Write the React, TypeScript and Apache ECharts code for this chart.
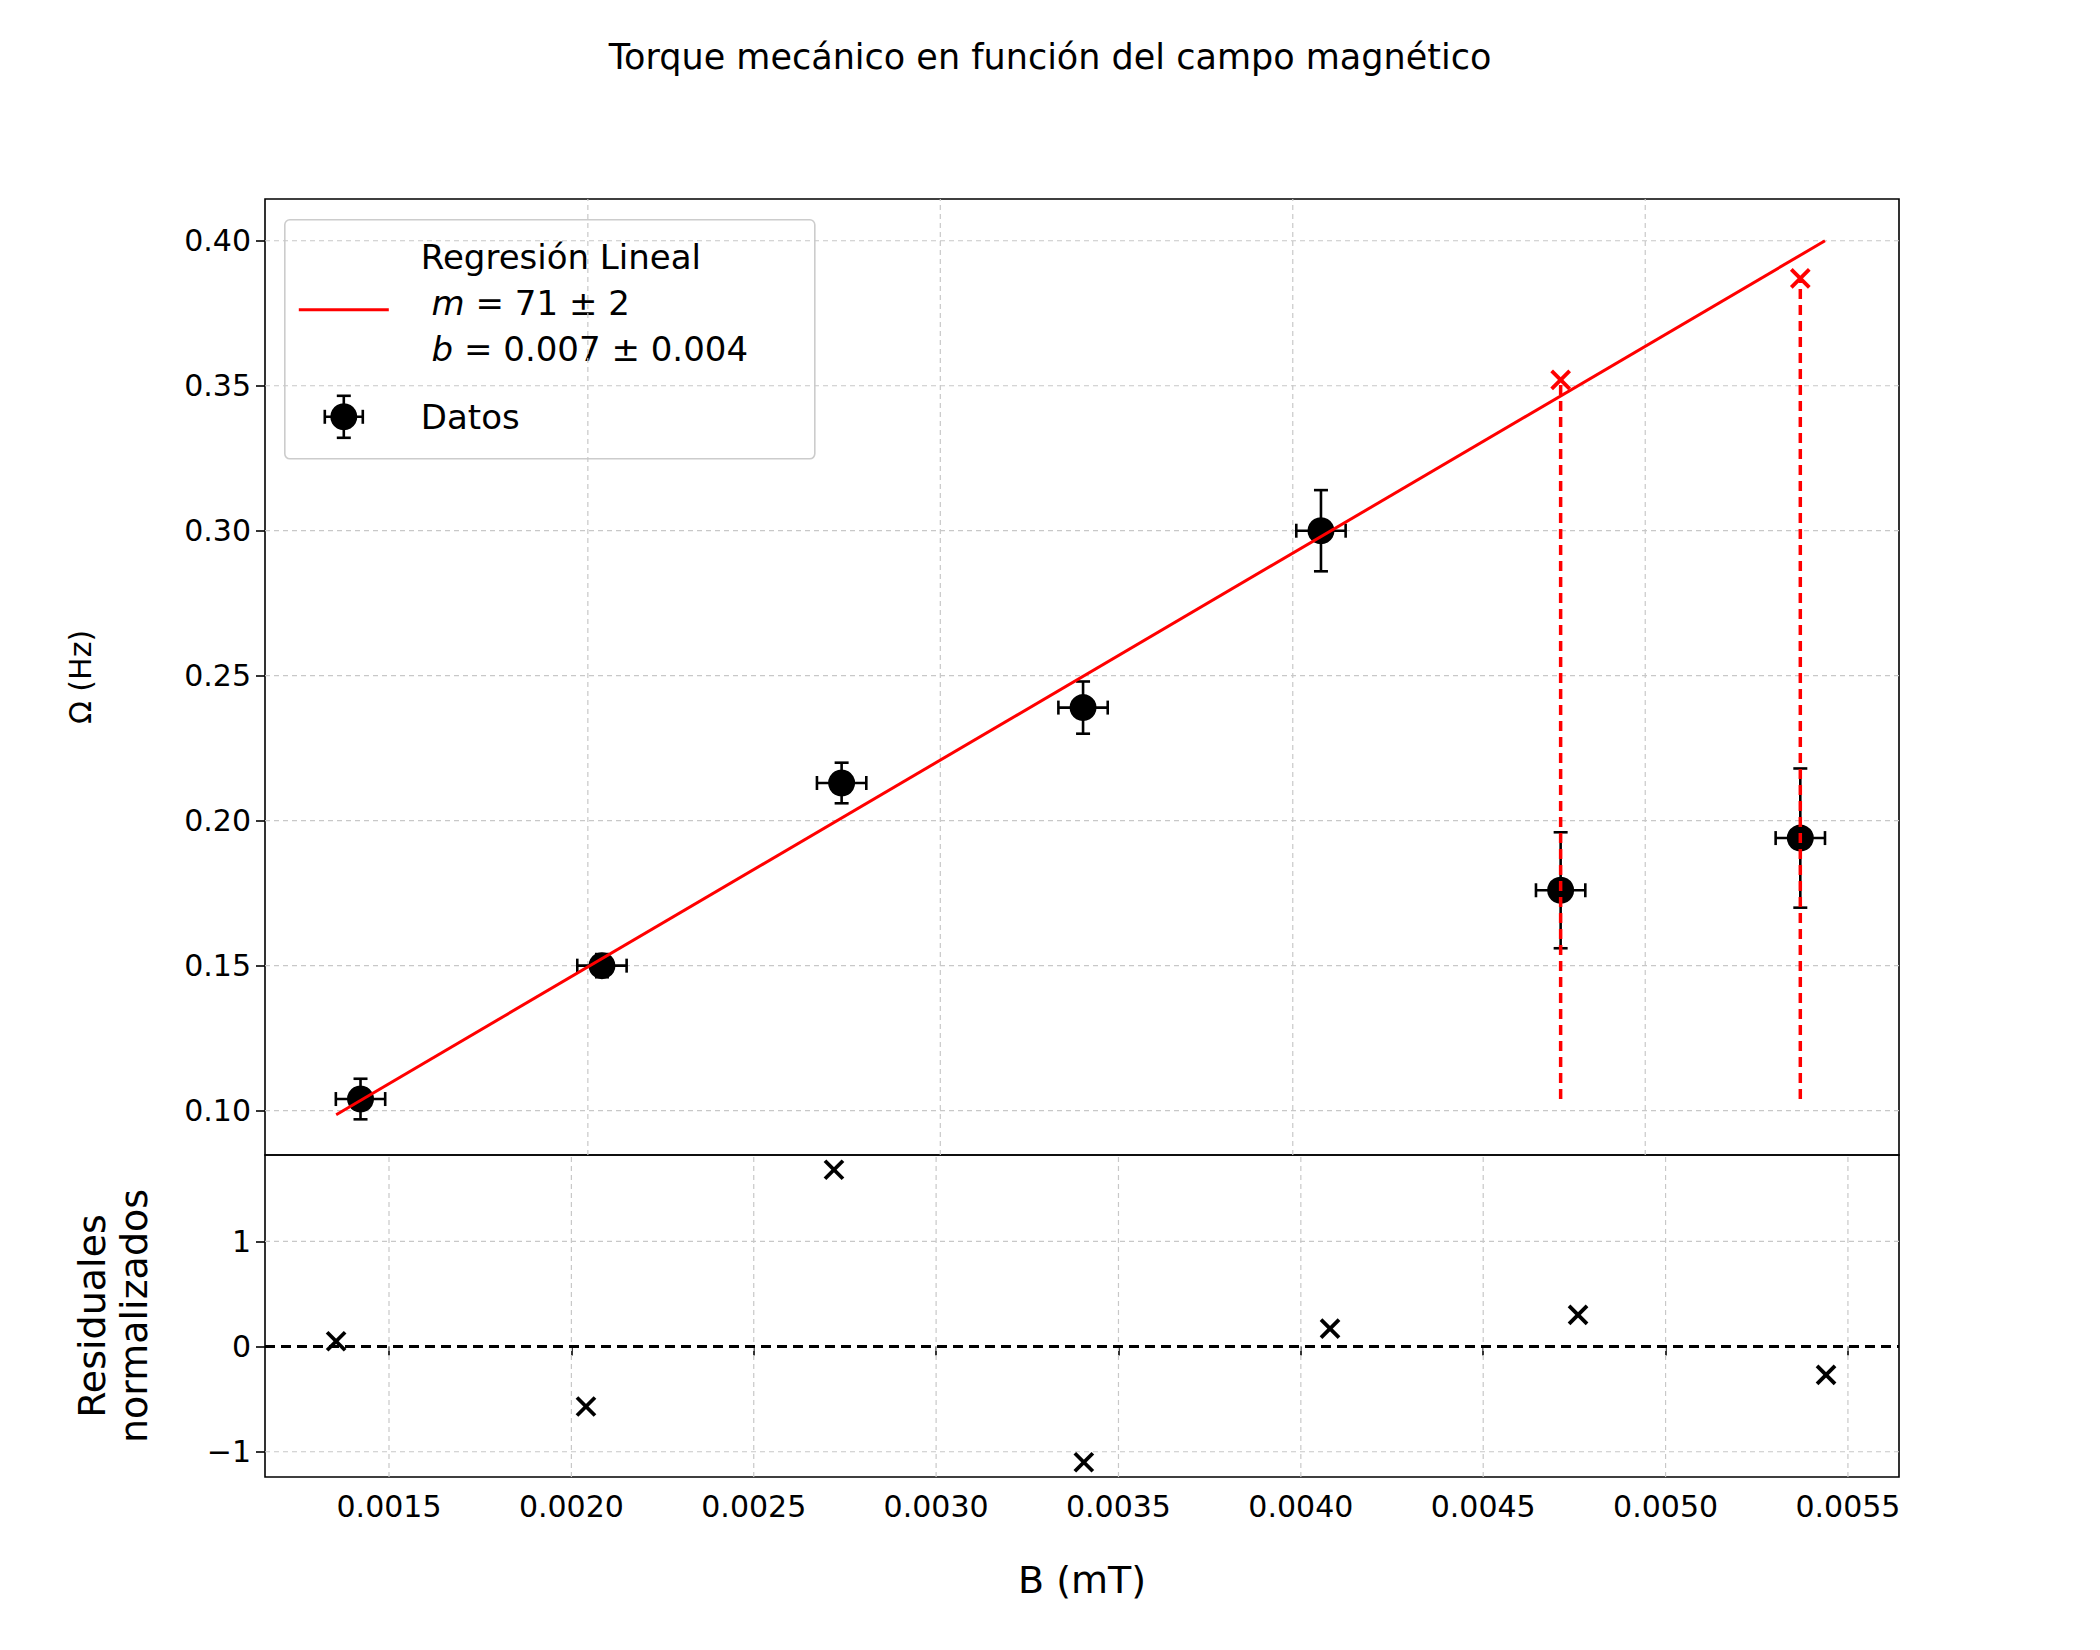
import React, { useEffect, useRef } from 'react';
import * as echarts from 'echarts';

// datos medidos
const B = [0.001355, 0.00204, 0.00272, 0.003405, 0.00408, 0.00476, 0.00544];
const omega = [0.104, 0.150, 0.213, 0.239, 0.300, 0.176, 0.194];
const omegaErr = [0.007, 0.004, 0.007, 0.009, 0.014, 0.020, 0.024];
const bErr = [0.00007, 0.00007, 0.00007, 0.00007, 0.00007, 0.00007, 0.00007];
const residuals = [0.05, -0.57, 1.68, -1.1, 0.17, 0.3, -0.27];
// puntos corregidos (rojo)
const corrX = [0.00476, 0.00544];
const corrY = [0.352, 0.387];
const corrBase = [0.104, 0.104];
// recta de ajuste
const fitX = [0.001286, 0.00551];
const fitY = [0.0986, 0.40];

const topXGrid = [0.002, 0.003, 0.004, 0.005];
const topYTicks = [0.10, 0.15, 0.20, 0.25, 0.30, 0.35, 0.40];
const botXTicks = [0.0015, 0.002, 0.0025, 0.003, 0.0035, 0.004, 0.0045, 0.005, 0.0055];
const botYTicks = [-1, 0, 1];

const TOP_X = [0.001084, 0.00572];
const TOP_Y = [0.0847, 0.4144];
const BOT_X = [0.00116, 0.00564];
const BOT_Y = [-1.24, 1.82];

const FONT = 'DejaVu Sans';
const gridStyle = { color: '#c8c8c8', type: [5, 4], width: 1.2 };

const crossItem = (color: string, size: number, width: number) => (params: any, api: any) => {
    const p = api.coord([api.value(0), api.value(1)]);
    const h = size / 2;
    return {
        type: 'group',
        children: [
            { type: 'line', shape: { x1: p[0] - h, y1: p[1] - h, x2: p[0] + h, y2: p[1] + h }, style: { stroke: color, lineWidth: width } },
            { type: 'line', shape: { x1: p[0] - h, y1: p[1] + h, x2: p[0] + h, y2: p[1] - h }, style: { stroke: color, lineWidth: width } },
        ],
    };
};

const gridLine = (ax: number, data: number[][], style: any = gridStyle) => ({
    type: 'line', xAxisIndex: ax, yAxisIndex: ax, showSymbol: false, silent: true, z: 0,
    data, lineStyle: style,
});

const App = () => {
    const chartRef = useRef(null);

    useEffect(() => {
        document.body.style.margin = '0';
        const chart = echarts.init(chartRef.current, null, { renderer: 'svg' });

        const errData = B.map((x, i) => [x, omega[i], bErr[i], omegaErr[i]]);
        const cap = 7;

        const grids = [
            ...topXGrid.map((v) => gridLine(0, [[v, TOP_Y[0]], [v, TOP_Y[1]]])),
            ...topYTicks.map((v) => gridLine(0, [[TOP_X[0], v], [TOP_X[1], v]])),
            ...botXTicks.map((v) => gridLine(1, [[v, BOT_Y[0]], [v, BOT_Y[1]]])),
            ...[-1, 1].map((v) => gridLine(1, [[BOT_X[0], v], [BOT_X[1], v]])),
            gridLine(1, [[BOT_X[0], 0], [BOT_X[1], 0]], { color: '#000', type: [10, 6], width: 3 }),
        ];

        const options = {
            animation: false,
            backgroundColor: '#fff',
            title: {
                text: 'Torque mecánico en función del campo magnético',
                left: 'center', top: 34,
                textStyle: { fontFamily: FONT, fontSize: 35, fontWeight: 'normal', color: '#000' },
            },
            grid: [
                { left: 265, width: 1634, top: 199, height: 956, show: true, borderColor: '#000', borderWidth: 1.6, backgroundColor: 'transparent' },
                { left: 265, width: 1634, top: 1155, height: 322, show: true, borderColor: '#000', borderWidth: 1.6, backgroundColor: 'transparent' },
            ],
            xAxis: [
                { gridIndex: 0, type: 'value', min: TOP_X[0], max: TOP_X[1], axisLine: { show: false }, axisTick: { show: false }, axisLabel: { show: false }, splitLine: { show: false } },
                {
                    gridIndex: 1, type: 'value', min: BOT_X[0], max: BOT_X[1],
                    name: 'B (mT)', nameLocation: 'middle', nameGap: 84,
                    nameTextStyle: { fontFamily: FONT, fontSize: 38, color: '#000' },
                    axisLine: { show: false },
                    axisTick: { show: true, length: 9, inside: false, customValues: botXTicks, lineStyle: { color: '#000', width: 1.6 } },
                    axisLabel: { customValues: botXTicks, formatter: (v: number) => v.toFixed(4), fontFamily: FONT, fontSize: 30, color: '#000', margin: 14 },
                    splitLine: { show: false },
                },
            ],
            yAxis: [
                {
                    gridIndex: 0, type: 'value', min: TOP_Y[0], max: TOP_Y[1],
                    name: 'Ω (Hz)', nameLocation: 'middle', nameGap: 170,
                    nameTextStyle: { fontFamily: FONT, fontSize: 30, color: '#000' },
                    axisLine: { show: false },
                    axisTick: { show: true, length: 9, customValues: topYTicks, lineStyle: { color: '#000', width: 1.6 } },
                    axisLabel: { customValues: topYTicks, formatter: (v: number) => v.toFixed(2), fontFamily: FONT, fontSize: 30, color: '#000', margin: 14 },
                    splitLine: { show: false },
                },
                {
                    gridIndex: 1, type: 'value', min: BOT_Y[0], max: BOT_Y[1],
                    name: 'Residuales\nnormalizados', nameLocation: 'middle', nameGap: 110,
                    nameTextStyle: { fontFamily: FONT, fontSize: 38, color: '#000', lineHeight: 42 },
                    axisLine: { show: false },
                    axisTick: { show: true, length: 9, customValues: botYTicks, lineStyle: { color: '#000', width: 1.6 } },
                    axisLabel: { customValues: botYTicks, formatter: (v: number) => (v < 0 ? '−' + Math.abs(v) : String(v)), fontFamily: FONT, fontSize: 30, color: '#000', margin: 14 },
                    splitLine: { show: false },
                },
            ],
            series: [
                ...grids,
                // recta de ajuste
                {
                    type: 'line', xAxisIndex: 0, yAxisIndex: 0, showSymbol: false,
                    data: fitX.map((x, i) => [x, fitY[i]]),
                    lineStyle: { color: '#ff0000', width: 3 },
                },
                // líneas rojas discontinuas
                ...corrX.map((x, i) => ({
                    type: 'line', xAxisIndex: 0, yAxisIndex: 0, showSymbol: false,
                    data: [[x, corrBase[i]], [x, corrY[i]]],
                    lineStyle: { color: '#ff0000', width: 3.5, type: [10, 6] },
                })),
                // barras de error
                {
                    type: 'custom', xAxisIndex: 0, yAxisIndex: 0, data: errData,
                    renderItem: (params: any, api: any) => {
                        const x = api.value(0), y = api.value(1), ex = api.value(2), ey = api.value(3);
                        const l = api.coord([x - ex, y]), r = api.coord([x + ex, y]);
                        const t = api.coord([x, y + ey]), b = api.coord([x, y - ey]);
                        const st = { stroke: '#000', lineWidth: 2.6 };
                        return {
                            type: 'group',
                            children: [
                                { type: 'line', shape: { x1: l[0], y1: l[1], x2: r[0], y2: r[1] }, style: st },
                                { type: 'line', shape: { x1: l[0], y1: l[1] - cap, x2: l[0], y2: l[1] + cap }, style: st },
                                { type: 'line', shape: { x1: r[0], y1: r[1] - cap, x2: r[0], y2: r[1] + cap }, style: st },
                                { type: 'line', shape: { x1: t[0], y1: t[1], x2: b[0], y2: b[1] }, style: st },
                                { type: 'line', shape: { x1: t[0] - cap, y1: t[1], x2: t[0] + cap, y2: t[1] }, style: st },
                                { type: 'line', shape: { x1: b[0] - cap, y1: b[1], x2: b[0] + cap, y2: b[1] }, style: st },
                            ],
                        };
                    },
                },
                {
                    type: 'scatter', xAxisIndex: 0, yAxisIndex: 0, symbol: 'circle', symbolSize: 27,
                    itemStyle: { color: '#000', opacity: 1 }, data: B.map((x, i) => [x, omega[i]]),
                },
                // cruces rojas
                {
                    type: 'custom', xAxisIndex: 0, yAxisIndex: 0,
                    data: corrX.map((x, i) => [x, corrY[i]]),
                    renderItem: crossItem('#ff0000', 18, 3.8),
                },
                // residuales
                {
                    type: 'custom', xAxisIndex: 1, yAxisIndex: 1,
                    data: B.map((x, i) => [x, residuals[i]]),
                    renderItem: crossItem('#000', 18, 3.8),
                },
            ],
            graphic: [
                {
                    type: 'group', left: 284, top: 219,
                    children: [
                        { type: 'rect', shape: { x: 0, y: 0, width: 530, height: 239, r: 5 }, style: { fill: 'rgba(255,255,255,0.85)', stroke: '#ccc', lineWidth: 1.6 } },
                        { type: 'line', shape: { x1: 14, y1: 90, x2: 104, y2: 90 }, style: { stroke: '#ff0000', lineWidth: 3 } },
                        {
                            type: 'text', x: 136, y: 14,
                            style: {
                                text: 'Regresión Lineal\n {i|m} = 71 ± 2\n {i|b} = 0.007 ± 0.004',
                                fontFamily: FONT, fontSize: 34, lineHeight: 46, fill: '#000',
                                rich: { i: { fontStyle: 'italic', fontFamily: FONT, fontSize: 34 } },
                            },
                        },
                        { type: 'line', shape: { x1: 40, y1: 197, x2: 78, y2: 197 }, style: { stroke: '#000', lineWidth: 2.6 } },
                        { type: 'line', shape: { x1: 40, y1: 190, x2: 40, y2: 204 }, style: { stroke: '#000', lineWidth: 2.6 } },
                        { type: 'line', shape: { x1: 78, y1: 190, x2: 78, y2: 204 }, style: { stroke: '#000', lineWidth: 2.6 } },
                        { type: 'line', shape: { x1: 59, y1: 176, x2: 59, y2: 218 }, style: { stroke: '#000', lineWidth: 2.6 } },
                        { type: 'line', shape: { x1: 52, y1: 176, x2: 66, y2: 176 }, style: { stroke: '#000', lineWidth: 2.6 } },
                        { type: 'line', shape: { x1: 52, y1: 218, x2: 66, y2: 218 }, style: { stroke: '#000', lineWidth: 2.6 } },
                        { type: 'circle', shape: { cx: 59, cy: 197, r: 13.5 }, style: { fill: '#000' } },
                        { type: 'text', x: 136, y: 180, style: { text: 'Datos', fontFamily: FONT, fontSize: 34, fill: '#000' } },
                    ],
                },
            ],
        };

        chart.setOption(options as any);

        return () => {
            chart.dispose();
        };
    }, []);

    return <div ref={chartRef} style={{ width: '2100px', height: '1650px' }}></div>;
};

export default App;
